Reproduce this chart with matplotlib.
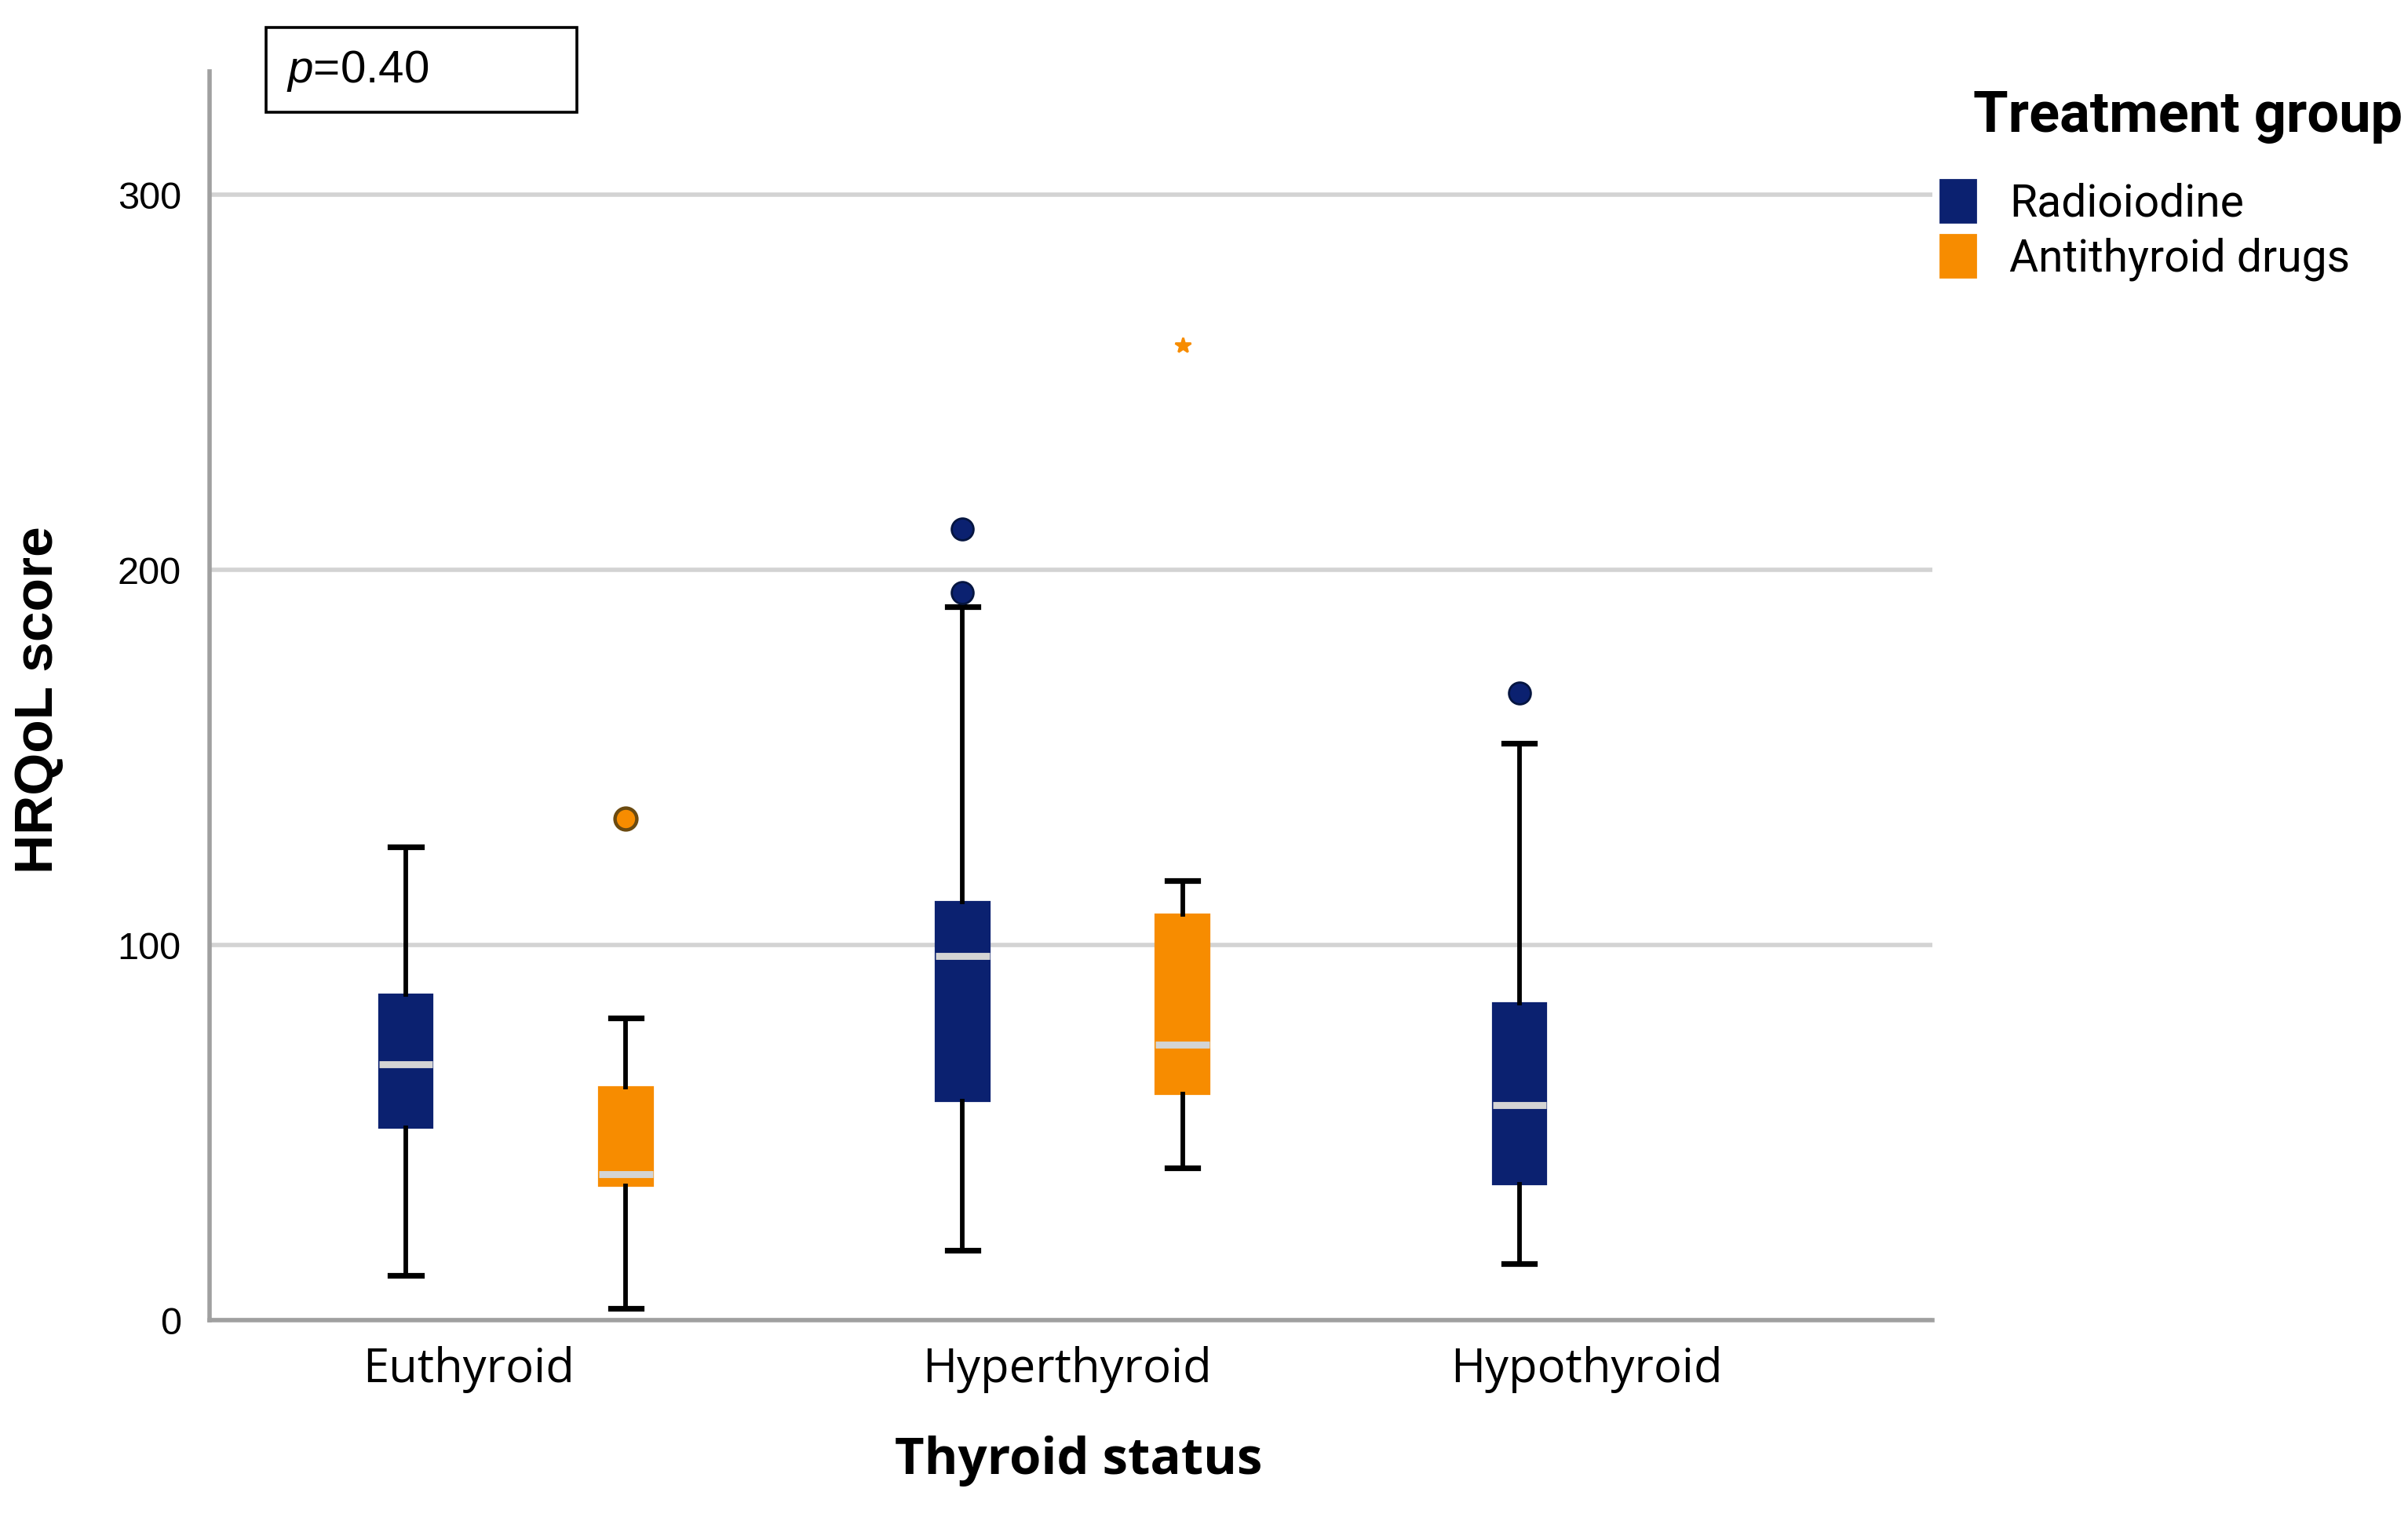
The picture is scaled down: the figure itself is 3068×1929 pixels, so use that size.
import matplotlib
matplotlib.use("Agg")
import matplotlib.pyplot as plt
from matplotlib.patches import Patch, Rectangle

# data
groups = ["Euthyroid", "Hyperthyroid", "Hypothyroid"]

rai_lo = [12.0, 18.6, 15.1]
rai_q1 = [51.2, 58.4, 36.2]
rai_med = [68.2, 97.1, 57.3]
rai_q3 = [86.8, 111.5, 84.5]
rai_hi = [126.1, 190.3, 153.9]
rai_out = [[], [211.0, 193.9], [167.2]]

atd_lo = [3.1, 40.7]
atd_q1 = [35.7, 60.2]
atd_med = [38.9, 73.5]
atd_q3 = [62.1, 108.1]
atd_hi = [80.5, 117.3]
atd_out = [[133.8], []]
atd_extreme = [[], [260.0]]

p_text = "=0.40"
legend_labels = ["Radioiodine", "Antithyroid drugs"]

navy = "#0b2170"
orange = "#f78c00"

plt.rcParams["mathtext.fontset"] = "custom"
plt.rcParams["mathtext.it"] = "Liberation Sans:italic"
plt.rcParams["mathtext.rm"] = "Liberation Sans"

fig = plt.figure(figsize=(15.34, 9.645), dpi=200)
ax = fig.add_axes([0.087, 0.128, 0.7155, 0.825])

centers = [0, 1, 2]
off = 0.1975


def make_stats(lo, q1, med, q3, hi):
    out = []
    for i in range(len(med)):
        out.append({"whislo": lo[i], "q1": q1[i], "med": med[i], "q3": q3[i],
                    "whishi": hi[i], "fliers": []})
    return out


def draw(stats, pos, color):
    ax.bxp(stats, positions=pos, widths=0.097, patch_artist=True,
           showfliers=False, manage_ticks=False,
           boxprops=dict(facecolor=color, edgecolor=color, linewidth=0.8),
           medianprops=dict(color="#d4d4d4", linewidth=3.2, solid_capstyle="butt"),
           whiskerprops=dict(color="black", linewidth=2.1),
           capprops=dict(color="black", linewidth=2.6),
           capwidths=0.055, zorder=3)


rai_pos = [c - off for c in centers]
atd_pos = [c + off for c in centers[:2]]
draw(make_stats(rai_lo, rai_q1, rai_med, rai_q3, rai_hi), rai_pos, navy)
draw(make_stats(atd_lo, atd_q1, atd_med, atd_q3, atd_hi), atd_pos, orange)

for x, vals in zip(rai_pos, rai_out):
    ax.plot([x] * len(vals), vals, "o", ms=10, mfc=navy, mec="#051540", mew=1.0, zorder=4, ls="none")
for x, vals in zip(atd_pos, atd_out):
    ax.plot([x] * len(vals), vals, "o", ms=10, mfc=orange, mec="#6b4a10", mew=1.6, zorder=4, ls="none")
for x, vals in zip(atd_pos, atd_extreme):
    ax.plot([x] * len(vals), vals, "*", ms=7.5, color=orange, zorder=4, ls="none")

ax.set_xlim(-0.55, 2.544)
ax.set_ylim(0, 333)
ax.set_yticks([0, 100, 200, 300])
ax.set_yticklabels(["0", "100", "200", "300"], family="Liberation Sans", fontsize=17.5)
ax.set_xticks([c + d for c, d in zip(centers, [-0.085, -0.01, -0.077])])
ax.set_xticklabels(groups, family="Open Sans", fontsize=21.5)
ax.tick_params(axis="both", length=0)
ax.tick_params(axis="x", pad=12)
ax.tick_params(axis="y", pad=13)

ax.grid(axis="y", color="#d3d3d3", linewidth=2.0, zorder=0)
ax.set_axisbelow(True)
for s in ["top", "right"]:
    ax.spines[s].set_visible(False)
for s in ["left", "bottom"]:
    ax.spines[s].set_color("#a0a0a0")
    ax.spines[s].set_linewidth(2.0)

fig.text(0.016, 0.538, "HRQoL score", rotation=90, ha="center", va="center",
         family="Liberation Sans", weight="bold", fontsize=25)
fig.text(0.448, 0.035, "Thyroid status", ha="center", va="center",
         family="Open Sans", weight="bold", fontsize=23.5)

# p-value box
fig.patches.append(Rectangle((0.1105, 0.9259), 0.129, 0.056, transform=fig.transFigure,
                             fill=False, edgecolor="black", linewidth=1.3))
fig.text(0.119, 0.953, r"$\it{p}$" + p_text, ha="left", va="center",
         family="Liberation Sans", fontsize=21)

# legend
fig.text(0.8195, 0.923, "Treatment group", ha="left", va="center",
         family="Roboto", weight="bold", fontsize=26)
handles = [Patch(facecolor=navy, edgecolor=navy), Patch(facecolor=orange, edgecolor=orange)]
fig.legend(handles, legend_labels, loc="upper left", bbox_to_anchor=(0.789, 0.908),
           frameon=False, prop={"family": "Roboto", "size": 20.5},
           handlelength=0.8, handleheight=1.1, handletextpad=0.75, labelspacing=0.2)

fig.savefig("out.png", dpi=200)
